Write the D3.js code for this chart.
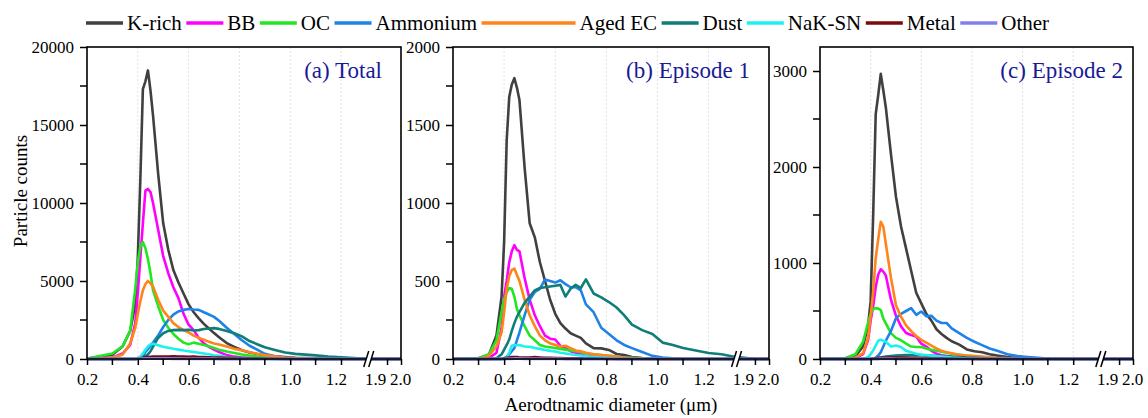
<!DOCTYPE html>
<html>
<head>
<meta charset="utf-8">
<script src="https://cdn.jsdelivr.net/npm/d3@7"></script>
<style>
  body { margin: 0; background: #fff; }
  svg text { font-family: "Liberation Serif", "Times New Roman", serif; }
</style>
</head>
<body>
<svg width="1148" height="418"></svg>
<script>
// aerodynamic diameter bins (um), the last two sit after the axis break
var diameters = [0.20, 0.30, 0.34, 0.37, 0.39, 0.40, 0.41, 0.42, 0.43, 0.44,
  0.45, 0.46, 0.48, 0.50, 0.52, 0.54, 0.56, 0.58, 0.60, 0.62,
  0.64, 0.66, 0.68, 0.70, 0.72, 0.75, 0.78, 0.81, 0.84, 0.87,
  0.90, 0.94, 0.98, 1.02, 1.06, 1.10, 1.15, 1.20, 1.25, 1.30,
  1.90, 2.00];

var seriesNames = ['K-rich', 'BB', 'OC', 'Ammonium', 'Aged EC', 'Dust', 'NaK-SN', 'Metal', 'Other'];
var seriesColors = ['#404040', '#ff00ff', '#22e622', '#1e82e6', '#ff8419', '#0f7d78', '#1ef0f0', '#7d0a0a', '#8080f0'];
// the Aged EC swatch is drawn longer in the original legend
var legendLineLengths = [37, 37, 37, 37, 94, 37, 37, 37, 37];

var xMajorTicks = [0.2, 0.4, 0.6, 0.8, 1.0, 1.2, 1.9, 2.0];
var xMinorTicks = [0.3, 0.5, 0.7, 0.9, 1.1];
var gridTicks = [0.4, 0.6, 0.8, 1.0, 1.2];

// (a) Total
var totalKrich = [20, 280, 800, 1800, 3500, 6500, 11500, 17300, 17800, 18500,
  17200, 15600, 11900, 8700, 7000, 5700, 4900, 4200, 3500, 3000,
  2600, 2250, 1950, 1660, 1400, 1020, 780, 560, 420, 320,
  240, 170, 120, 80, 60, 40, 25, 15, 10, 5,
  0, 0];
var totalBB = [10, 100, 350, 900, 2300, 4200, 6500, 8700, 10800, 10900,
  10700, 10000, 8300, 6600, 5500, 4600, 3900, 2900, 2200, 1850,
  1350, 1000, 780, 600, 450, 250, 150, 100, 70, 50,
  35, 20, 15, 10, 5, 3, 0, 0, 0, 0,
  0, 0];
var totalOC = [30, 350, 810, 1800, 4500, 6200, 7200, 7500, 7100, 6400,
  5500, 4400, 3400, 2500, 2000, 1600, 1300, 1050, 950, 1050,
  980, 900, 820, 700, 600, 480, 380, 290, 220, 160,
  120, 80, 50, 30, 20, 10, 5, 0, 0, 0,
  0, 0];
var totalEC = [10, 100, 280, 1000, 2000, 2900, 3700, 4400, 4800, 5000,
  4850, 4650, 3800, 3100, 2700, 2300, 2050, 1850, 1700, 1500,
  1350, 1240, 1100, 1000, 930, 800, 650, 560, 430, 340,
  260, 170, 100, 60, 35, 20, 10, 5, 0, 0,
  0, 0];
var totalAmm = [0, 0, 0, 0, 0, 20, 100, 250, 450, 650,
  850, 1050, 1500, 2050, 2500, 2850, 3050, 3150, 3200, 3170,
  3150, 3000, 2850, 2700, 2450, 2000, 1600, 1200, 850, 600,
  330, 180, 90, 40, 20, 10, 0, 0, 0, 0,
  0, 0];
var totalDust = [0, 0, 0, 0, 0, 20, 50, 120, 200, 300,
  500, 800, 1350, 1650, 1800, 1850, 1870, 1850, 1880, 1830,
  1850, 1920, 1950, 1980, 1930, 1800, 1650, 1450, 1150, 950,
  750, 580, 420, 330, 280, 230, 160, 110, 60, 20,
  0, 0];
var totalNaK = [0, 0, 0, 0, 20, 60, 150, 350, 600, 800,
  950, 980, 880, 780, 720, 660, 600, 540, 500, 450,
  400, 350, 300, 240, 200, 130, 100, 70, 50, 35,
  20, 10, 0, 0, 0, 0, 0, 0, 0, 0,
  0, 0];
var totalMetal = [0, 0, 0, 0, 0, 20, 50, 80, 110, 130,
  140, 150, 160, 150, 160, 170, 160, 150, 140, 150,
  130, 120, 110, 100, 90, 80, 70, 60, 50, 40,
  30, 20, 10, 0, 0, 0, 0, 0, 0, 0,
  0, 0];
var totalOther = [0, 0, 0, 0, 5, 10, 20, 30, 30, 40,
  40, 40, 30, 30, 30, 20, 20, 20, 20, 10,
  10, 10, 10, 10, 5, 5, 5, 0, 0, 0,
  0, 0, 0, 0, 0, 0, 0, 0, 0, 0,
  0, 0];

// (b) Episode 1
var ep1Krich = [0, 5, 25, 150, 400, 750, 1400, 1680, 1760, 1800,
  1740, 1660, 1230, 870, 780, 620, 500, 380, 290, 230,
  195, 165, 150, 135, 100, 70, 68, 58, 32, 25,
  12, 6, 3, 0, 0, 0, 0, 0, 0, 0,
  0, 0];
var ep1BB = [0, 0, 5, 40, 200, 400, 500, 620, 690, 730,
  700, 690, 520, 380, 280, 210, 150, 130, 125, 85,
  70, 50, 40, 30, 20, 15, 10, 5, 0, 0,
  0, 0, 0, 0, 0, 0, 0, 0, 0, 0,
  0, 0];
var ep1OC = [0, 5, 30, 120, 300, 380, 430, 455, 450, 400,
  320, 280, 210, 150, 120, 90, 80, 75, 70, 65,
  60, 55, 50, 45, 35, 30, 25, 20, 15, 10,
  8, 5, 0, 0, 0, 0, 0, 0, 0, 0,
  0, 0];
var ep1EC = [0, 0, 20, 80, 170, 300, 450, 530, 570, 580,
  540, 500, 380, 280, 210, 150, 120, 100, 90, 80,
  85, 70, 55, 50, 40, 30, 25, 20, 15, 10,
  5, 0, 0, 0, 0, 0, 0, 0, 0, 0,
  0, 0];
var ep1Amm = [0, 0, 0, 0, 0, 0, 10, 30, 50, 70,
  120, 170, 280, 380, 430, 450, 510, 500, 490, 505,
  480, 460, 460, 440, 350, 300, 200, 160, 120, 90,
  70, 45, 20, 10, 5, 0, 0, 0, 0, 0,
  0, 0];
var ep1Dust = [0, 0, 0, 5, 30, 60, 90, 125, 180, 230,
  270, 300, 360, 400, 440, 455, 460, 465, 470, 475,
  400, 450, 475, 455, 510, 420, 395, 365, 330, 280,
  220, 185, 160, 105, 90, 70, 55, 38, 30, 15,
  0, 0];
var ep1NaK = [0, 0, 0, 0, 0, 5, 15, 40, 85, 90,
  88, 90, 80, 78, 70, 65, 58, 52, 48, 40,
  35, 30, 26, 22, 18, 13, 10, 6, 4, 0,
  0, 0, 0, 0, 0, 0, 0, 0, 0, 0,
  0, 0];
var ep1Metal = [0, 0, 0, 0, 0, 5, 8, 10, 12, 12,
  12, 10, 10, 10, 12, 10, 8, 8, 6, 6,
  5, 5, 4, 4, 3, 3, 2, 0, 0, 0,
  0, 0, 0, 0, 0, 0, 0, 0, 0, 0,
  0, 0];
var ep1Other = [0, 0, 0, 0, 0, 0, 1, 2, 2, 3,
  3, 3, 2, 2, 2, 2, 1, 1, 1, 1,
  0, 0, 0, 0, 0, 0, 0, 0, 0, 0,
  0, 0, 0, 0, 0, 0, 0, 0, 0, 0,
  0, 0];

// (c) Episode 2
var ep2Krich = [0, 5, 30, 130, 350, 600, 1500, 2550, 2750, 2970,
  2800, 2620, 2140, 1690, 1380, 1150, 920, 690, 580, 470,
  400, 310, 260, 220, 185, 150, 100, 80, 70, 50,
  35, 20, 10, 5, 0, 0, 0, 0, 0, 0,
  0, 0];
var ep2BB = [0, 0, 10, 50, 200, 400, 550, 750, 880, 935,
  910, 870, 620, 450, 340, 270, 250, 235, 160, 130,
  85, 55, 40, 30, 20, 12, 8, 0, 0, 0,
  0, 0, 0, 0, 0, 0, 0, 0, 0, 0,
  0, 0];
var ep2OC = [0, 10, 50, 180, 380, 470, 520, 530, 525, 510,
  420, 370, 270, 220, 195, 160, 130, 125, 125, 110,
  95, 85, 75, 65, 55, 45, 35, 28, 20, 12,
  8, 0, 0, 0, 0, 0, 0, 0, 0, 0,
  0, 0];
var ep2EC = [0, 0, 15, 60, 220, 450, 700, 1050, 1250, 1430,
  1380, 1200, 850, 560, 440, 350, 290, 240, 200, 170,
  140, 110, 85, 70, 60, 45, 35, 30, 25, 18,
  12, 8, 0, 0, 0, 0, 0, 0, 0, 0,
  0, 0];
var ep2Amm = [0, 0, 0, 0, 0, 0, 0, 15, 35, 70,
  130, 190, 290, 425, 470, 500, 530, 460, 495, 445,
  450, 400, 375, 375, 320, 270, 220, 180, 145, 110,
  85, 50, 30, 20, 12, 5, 0, 0, 0, 0,
  0, 0];
var ep2Dust = [0, 0, 0, 0, 0, 0, 2, 5, 10, 15,
  20, 25, 30, 35, 38, 40, 40, 42, 40, 38,
  35, 32, 30, 28, 25, 20, 15, 12, 8, 5,
  3, 0, 0, 0, 0, 0, 0, 0, 0, 0,
  0, 0];
var ep2NaK = [0, 0, 0, 0, 20, 50, 90, 140, 190, 200,
  190, 180, 130, 140, 125, 85, 70, 55, 45, 40,
  35, 30, 25, 20, 15, 10, 5, 0, 0, 0,
  0, 0, 0, 0, 0, 0, 0, 0, 0, 0,
  0, 0];
var ep2Metal = [0, 0, 0, 0, 0, 2, 5, 8, 10, 12,
  12, 12, 14, 15, 15, 14, 12, 12, 10, 10,
  8, 8, 6, 5, 4, 3, 2, 0, 0, 0,
  0, 0, 0, 0, 0, 0, 0, 0, 0, 0,
  0, 0];
var ep2Other = [0, 0, 0, 0, 0, 0, 0, 1, 1, 2,
  2, 2, 2, 1, 1, 1, 1, 0, 0, 0,
  0, 0, 0, 0, 0, 0, 0, 0, 0, 0,
  0, 0, 0, 0, 0, 0, 0, 0, 0, 0,
  0, 0];

var panels = [
  {title: '(a) Total', left: 87, right: 401, yMax: 20000, major: 5000, minor: 2500, titleInset: 19,
   series: [totalKrich, totalBB, totalOC, totalAmm, totalEC, totalDust, totalNaK, totalMetal, totalOther]},
  {title: '(b) Episode 1', left: 453, right: 769, yMax: 2000, major: 500, minor: 250, titleInset: 19,
   series: [ep1Krich, ep1BB, ep1OC, ep1Amm, ep1EC, ep1Dust, ep1NaK, ep1Metal, ep1Other]},
  {title: '(c) Episode 2', left: 820, right: 1133, yMax: 3250, major: 1000, minor: 500, titleInset: 10,
   series: [ep2Krich, ep2BB, ep2OC, ep2Amm, ep2EC, ep2Dust, ep2NaK, ep2Metal, ep2Other]}
];

var plotTop = 47, plotBottom = 359;
var svg = d3.select('svg');

panels.forEach(function(p) {
  var w = p.right - p.left;
  var h = plotBottom - plotTop;

  // broken x axis: 0.2-1.3 then 1.8-2.0
  var x = d3.scaleLinear()
    .domain([0.2, 1.3, 1.8, 2.0])
    .range([0, w * 0.8898, w * 0.911, w]);
  var y = d3.scaleLinear().domain([0, p.yMax]).range([h, 0]);

  var g = svg.append('g').attr('transform', 'translate(' + p.left + ',' + plotTop + ')');

  g.selectAll('.grid')
    .data(gridTicks)
    .enter()
    .append('line')
    .attr('x1', d => x(d)).attr('x2', d => x(d))
    .attr('y1', 0).attr('y2', h)
    .attr('stroke', '#dcdcdc')
    .attr('stroke-width', 0.8)
    .attr('stroke-dasharray', '2,2');

  var line = d3.line()
    .x((d, i) => x(diameters[i]))
    .y(d => y(d));

  p.series.forEach(function(values, k) {
    g.append('path')
      .datum(values)
      .attr('d', line)
      .attr('fill', 'none')
      .attr('stroke', seriesColors[k])
      .attr('stroke-width', k === 8 ? 3 : 2.6)
      .attr('stroke-linejoin', 'round');
  });

  // frame
  g.append('rect')
    .attr('width', w).attr('height', h)
    .attr('fill', 'none')
    .attr('stroke', '#000')
    .attr('stroke-width', 1.6);

  var xAxis = g.append('g')
    .attr('transform', 'translate(0,' + h + ')')
    .attr('font-family', null)
    .call(d3.axisBottom(x).tickValues(xMajorTicks).tickSize(6).tickPadding(8)
      .tickFormat(d3.format('.1f')));
  xAxis.select('.domain').remove();
  xAxis.selectAll('line').attr('stroke-width', 1.5);
  xAxis.selectAll('text')
    .attr('font-size', 17)
    .attr('fill', '#000')
    .attr('dx', d => d === 1.9 ? -12 : (d === 1.2 ? -5 : (d === 2.0 ? -1 : 0)));

  g.append('g')
    .attr('transform', 'translate(0,' + h + ')')
    .selectAll('line')
    .data(xMinorTicks)
    .enter()
    .append('line')
    .attr('x1', d => x(d)).attr('x2', d => x(d))
    .attr('y1', 0).attr('y2', 6)
    .attr('stroke', '#000')
    .attr('stroke-width', 1.5);

  var yAxis = g.append('g')
    .call(d3.axisLeft(y).tickValues(d3.range(0, p.yMax + 1, p.major)).tickSize(7).tickPadding(6)
      .tickFormat(d3.format('d')));
  yAxis.select('.domain').remove();
  yAxis.selectAll('line').attr('stroke-width', 1.5);
  yAxis.selectAll('text')
    .attr('font-size', 17)
    .attr('fill', '#000');

  g.append('g')
    .selectAll('line')
    .data(d3.range(p.minor, p.yMax, p.major))
    .enter()
    .append('line')
    .attr('x1', -7).attr('x2', 0)
    .attr('y1', d => y(d)).attr('y2', d => y(d))
    .attr('stroke', '#000')
    .attr('stroke-width', 1.5);

  // break mark on the bottom axis
  var bx = (x(1.3) + x(1.8)) / 2;
  g.append('polygon')
    .attr('points', [[bx - 6, h + 8], [bx - 1, h - 8], [bx + 4, h - 8], [bx - 1, h + 8]].join(' '))
    .attr('fill', '#fff');
  [bx - 6, bx - 1].forEach(function(b) {
    g.append('line')
      .attr('x1', b).attr('y1', h + 8)
      .attr('x2', b + 5).attr('y2', h - 8)
      .attr('stroke', '#000')
      .attr('stroke-width', 1.5);
  });

  g.append('text')
    .attr('x', w - p.titleInset)
    .attr('y', 31)
    .attr('text-anchor', 'end')
    .attr('font-size', 23)
    .attr('fill', '#1a1a96')
    .text(p.title);
});

svg.append('text')
  .attr('transform', 'translate(27,191) rotate(-90)')
  .attr('text-anchor', 'middle')
  .attr('font-size', 19)
  .text('Particle counts');

svg.append('text')
  .attr('x', 611)
  .attr('y', 411)
  .attr('text-anchor', 'middle')
  .attr('font-size', 19)
  .text('Aerodtnamic diameter (\u03bcm)');

// legend row
var legend = svg.append('g').attr('transform', 'translate(86,0)');
var lx = 0;
seriesNames.forEach(function(name, k) {
  var len = legendLineLengths[k];
  legend.append('line')
    .attr('x1', lx).attr('x2', lx + len)
    .attr('y1', 23).attr('y2', 23)
    .attr('stroke', seriesColors[k])
    .attr('stroke-width', 3.5);
  var t = legend.append('text')
    .attr('x', lx + len + 4)
    .attr('y', 29.5)
    .attr('font-size', 21)
    .text(name);
  lx += len + 4 + t.node().getComputedTextLength() + 4.5;
});
</script>
</body>
</html>
